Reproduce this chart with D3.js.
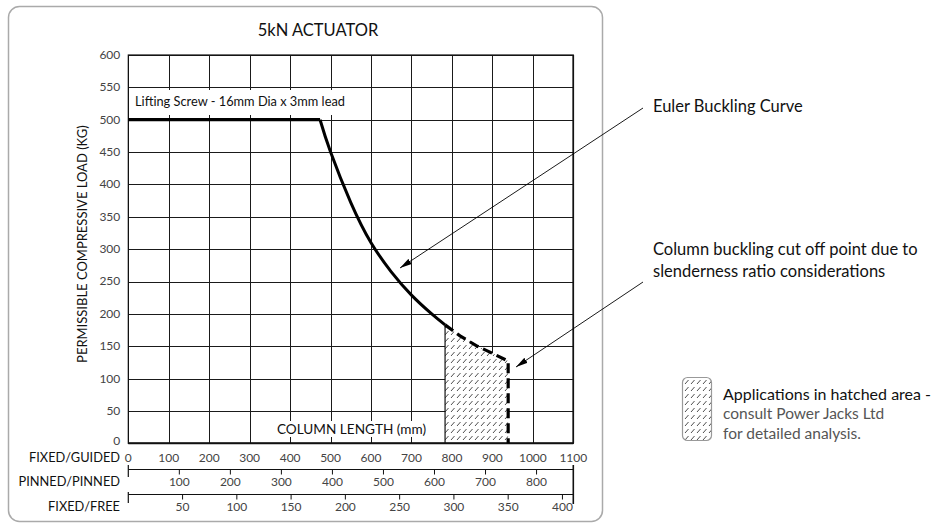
<!DOCTYPE html>
<html><head><meta charset="utf-8">
<script src="https://cdn.jsdelivr.net/npm/d3@7/dist/d3.min.js"></script>
<style>
html,body{margin:0;padding:0;background:#fff;}
svg{display:block;font-family:Lato,"Open Sans",sans-serif;}
</style></head>
<body>
<svg id="chart" width="944" height="525"></svg>
<script>
// ---- data ----
const title = "5kN ACTUATOR";
const guidedTicks = [0,100,200,300,400,500,600,700,800,900,1000,1100];
const pinnedTicks = [100,200,300,400,500,600,700,800];
const freeTicks = [50,100,150,200,250,300,350,400];
const loadTicks = [0,50,100,150,200,250,300,350,400,450,500,550,600];
const guidedMax = 1100, pinnedMax = 872, freeMax = 410, loadMax = 600;
// screw limit (flat)
const flatLength = [0, 474];
const flatLoad = [500, 500];
// Euler buckling curve (solid)
const eulerLength = [474, 500, 550, 600, 650, 700, 750, 783];
const eulerLoad   = [500, 450, 372, 310, 265, 229, 200, 183];
// beyond slenderness cut-off (dashed, hatched)
const cutLength = [783, 820, 860, 900, 939];
const cutLoad   = [183, 166, 151, 139, 127];
const axisNames = ["FIXED/GUIDED","PINNED/PINNED","FIXED/FREE"];

const svg = d3.select("#chart");
const L = 128.3, R = 573.3, T = 55, B = 443.3;
const x = d3.scaleLinear([0, guidedMax], [L, R]);
const xp = d3.scaleLinear([0, pinnedMax], [L, R]);
const xf = d3.scaleLinear([0, freeMax], [L, R]);
const y = d3.scaleLinear([0, loadMax], [B, T]);

const defs = svg.append("defs");
const pat = defs.append("pattern").attr("id","hatch").attr("patternUnits","userSpaceOnUse")
  .attr("width",6).attr("height",7);
pat.append("rect").attr("width",6).attr("height",7).attr("fill","#fff");
pat.append("line").attr("x1",1).attr("y1",6).attr("x2",4.5).attr("y2",2)
  .attr("stroke","#222").attr("stroke-width",0.8);
defs.append("marker").attr("id","arrow").attr("markerUnits","userSpaceOnUse")
  .attr("viewBox","0 0 12 6").attr("refX",12).attr("refY",3)
  .attr("markerWidth",12).attr("markerHeight",6).attr("orient","auto")
  .append("path").attr("d","M0,0L12,3L0,6Z").attr("fill","#000");

// frame
svg.append("rect").attr("x",8.5).attr("y",6.5).attr("width",594).attr("height",515)
  .attr("rx",11).attr("fill","none").attr("stroke","#aaa").attr("stroke-width",1.5);

// title
svg.append("text").attr("x",318).attr("y",30).attr("dy","0.35em").attr("text-anchor","middle")
  .attr("font-size",16.5).attr("fill","#111").text(title);

// grid
const g = svg.append("g");
g.selectAll(".vg").data(guidedTicks).join("line")
  .attr("x1",d=>Math.round(x(d))+0.5).attr("x2",d=>Math.round(x(d))+0.5)
  .attr("y1",T).attr("y2",B).attr("stroke","#1a1a1a").attr("stroke-width",1);
g.selectAll(".hg").data(loadTicks).join("line")
  .attr("x1",L).attr("x2",R)
  .attr("y1",d=>Math.round(y(d))+0.5).attr("y2",d=>Math.round(y(d))+0.5)
  .attr("stroke","#1a1a1a").attr("stroke-width",1);

// y tick labels
svg.append("g").selectAll("text").data(loadTicks).join("text")
  .attr("x",L-8).attr("y",d=>y(d)-(d===0?2:0)).attr("dy","0.33em").attr("text-anchor","end")
  .attr("font-size",12).attr("fill","#444").text(d=>d);

// y axis title
svg.append("text").attr("transform",`translate(82,${(T+B)/2-5}) rotate(-90)`)
  .attr("text-anchor","middle").attr("dy","0.35em").attr("font-size",13).attr("fill","#111")
  .text("PERMISSIBLE COMPRESSIVE LOAD (KG)");

// label boxes
const lab1 = svg.append("g");
lab1.append("rect").attr("x",L+1).attr("y",90).attr("width",218).attr("height",25).attr("fill","#fff");
lab1.append("text").attr("x",135).attr("y",102).attr("dy","0.35em").attr("font-size",12.8)
  .attr("fill","#111").text("Lifting Screw - 16mm Dia x 3mm lead");
const lab2 = svg.append("g");
lab2.append("rect").attr("x",274).attr("y",421).attr("width",155).attr("height",16).attr("fill","#fff");
lab2.append("text").attr("x",351.5).attr("y",429).attr("dy","0.35em").attr("text-anchor","middle")
  .attr("font-size",13.6).attr("fill","#111").text("COLUMN LENGTH (mm)");

// hatched area
const area = d3.area().x((d,i)=>x(cutLength[i])).y0(y(0)).y1((d,i)=>y(cutLoad[i])).curve(d3.curveMonotoneX);
svg.append("path").datum(cutLoad).attr("d",area).attr("fill","url(#hatch)");
svg.append("line").attr("x1",x(cutLength[0])).attr("x2",x(cutLength[0]))
  .attr("y1",y(0)).attr("y2",y(cutLoad[0])).attr("stroke","#111").attr("stroke-width",1.2);

// plot border
svg.append("rect").attr("x",L).attr("y",T).attr("width",R-L).attr("height",B-T)
  .attr("fill","none").attr("stroke","#111").attr("stroke-width",1.2);
svg.append("line").attr("x1",L).attr("x2",R).attr("y1",B).attr("y2",B).attr("stroke","#111").attr("stroke-width",2);
svg.append("line").attr("x1",R).attr("x2",R).attr("y1",T).attr("y2",B).attr("stroke","#111").attr("stroke-width",1.6);

// curves
svg.append("path").datum(flatLength.map((v,i)=>[v,flatLoad[i]]))
  .attr("d",d3.line().x(d=>x(d[0])).y(d=>y(d[1])))
  .attr("fill","none").attr("stroke","#000").attr("stroke-width",3.2);
svg.append("path").datum(eulerLength.map((v,i)=>[v,eulerLoad[i]]))
  .attr("d",d3.line().x(d=>x(d[0])).y(d=>y(d[1])).curve(d3.curveNatural))
  .attr("fill","none").attr("stroke","#000")
  .attr("stroke-width",3).attr("stroke-linejoin","miter");
const last = cutLength.length-1;
svg.append("path").datum(cutLength.map((v,i)=>[v,cutLoad[i]]).concat([[cutLength[last],0]]))
  .attr("d",d3.line().x(d=>x(d[0])).y(d=>y(d[1])).curve(d3.curveLinear))
  .attr("fill","none").attr("stroke","#000").attr("stroke-width",3.2)
  .attr("stroke-dasharray","10,5").attr("stroke-linejoin","miter");

// bottom axes
svg.append("g").selectAll("text").data(guidedTicks).join("text")
  .attr("x",d=>x(d)).attr("y",457.5).attr("dy","0.35em").attr("text-anchor","middle")
  .attr("font-size",12).attr("fill","#444").text(d=>d);
const ay2 = 469.5, ay3 = 494.5;
svg.append("line").attr("x1",L).attr("x2",R).attr("y1",ay2).attr("y2",ay2).attr("stroke","#111").attr("stroke-width",1.2);
svg.append("line").attr("x1",L).attr("x2",R).attr("y1",ay3).attr("y2",ay3).attr("stroke","#111").attr("stroke-width",1.2);
svg.append("line").attr("x1",L).attr("x2",L).attr("y1",465).attr("y2",477).attr("stroke","#111").attr("stroke-width",1.2);
svg.append("line").attr("x1",L).attr("x2",L).attr("y1",492).attr("y2",503).attr("stroke","#111").attr("stroke-width",1.2);
svg.append("line").attr("x1",R).attr("x2",R).attr("y1",465).attr("y2",504).attr("stroke","#111").attr("stroke-width",1.6);
svg.append("g").selectAll("line").data(pinnedTicks).join("line")
  .attr("x1",d=>xp(d)).attr("x2",d=>xp(d)).attr("y1",ay2).attr("y2",ay2+5).attr("stroke","#111");
svg.append("g").selectAll("text").data(pinnedTicks).join("text")
  .attr("x",d=>xp(d)).attr("y",482).attr("dy","0.35em").attr("text-anchor","middle")
  .attr("font-size",12).attr("fill","#444").text(d=>d);
svg.append("g").selectAll("line").data(freeTicks).join("line")
  .attr("x1",d=>xf(d)).attr("x2",d=>xf(d)).attr("y1",ay3).attr("y2",ay3+5).attr("stroke","#111");
svg.append("g").selectAll("text").data(freeTicks).join("text")
  .attr("x",d=>xf(d)).attr("y",507).attr("dy","0.35em").attr("text-anchor","middle")
  .attr("font-size",12).attr("fill","#444").text(d=>d);
svg.append("g").selectAll("text").data(axisNames).join("text")
  .attr("x",120).attr("y",(d,i)=>[458,482,507][i]).attr("dy","0.35em").attr("text-anchor","end")
  .attr("font-size",12.8).attr("fill","#111").text(d=>d);

// annotations
svg.append("line").attr("x1",643).attr("y1",108).attr("x2",400).attr("y2",268)
  .attr("stroke","#000").attr("stroke-width",0.9).attr("marker-end","url(#arrow)");
svg.append("text").attr("x",653).attr("y",106).attr("dy","0.35em").attr("font-size",16.5)
  .attr("fill","#111").text("Euler Buckling Curve");
svg.append("line").attr("x1",643).attr("y1",282).attr("x2",516).attr("y2",367)
  .attr("stroke","#000").attr("stroke-width",0.9).attr("marker-end","url(#arrow)");
svg.append("text").attr("x",653).attr("y",249).attr("dy","0.35em").attr("font-size",16.5)
  .attr("fill","#111").text("Column buckling cut off point due to");
svg.append("text").attr("x",653).attr("y",271).attr("dy","0.35em").attr("font-size",16.5)
  .attr("fill","#111").text("slenderness ratio considerations");

// legend
svg.append("rect").attr("x",682.5).attr("y",377.5).attr("width",29).attr("height",63).attr("rx",5)
  .attr("fill","url(#hatch)").attr("stroke","#999").attr("stroke-width",1.2);
svg.append("text").attr("x",723).attr("y",394).attr("dy","0.35em").attr("font-size",16)
  .attr("fill","#111").text("Applications in hatched area -");
svg.append("text").attr("x",723).attr("y",414).attr("dy","0.35em").attr("font-size",15.5)
  .attr("fill","#555").text("consult Power Jacks Ltd");
svg.append("text").attr("x",723).attr("y",434).attr("dy","0.35em").attr("font-size",15.5)
  .attr("fill","#555").text("for detailed analysis.");
</script>
</body></html>
